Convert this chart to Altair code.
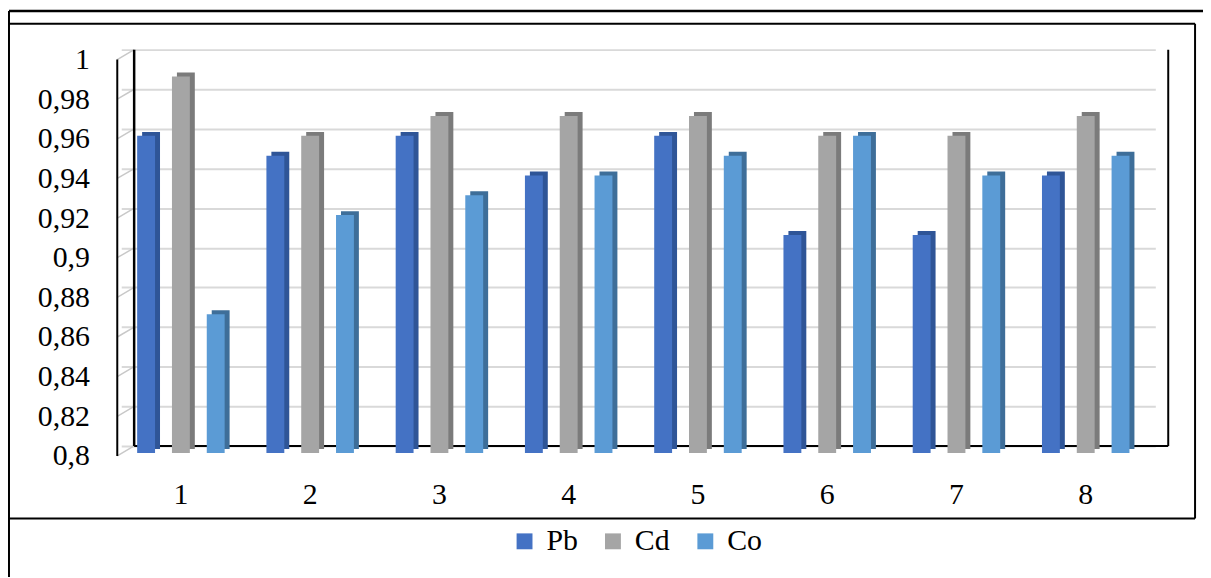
import altair as alt
import pandas as pd

groups = ["1", "2", "3", "4", "5", "6", "7", "8"]
series = ["Pb", "Cd", "Co"]
pb = [0.96, 0.95, 0.96, 0.94, 0.96, 0.91, 0.91, 0.94]
cd = [0.99, 0.96, 0.97, 0.97, 0.97, 0.96, 0.96, 0.97]
co = [0.87, 0.92, 0.93, 0.94, 0.95, 0.96, 0.94, 0.95]
y_ticks = [0.8, 0.82, 0.84, 0.86, 0.88, 0.9, 0.92, 0.94, 0.96, 0.98, 1.0]
y_min, y_max = 0.8, 1.0

front_colors = ["#4472C4", "#A5A5A5", "#5B9BD5"]
side_colors = ["#2F5597", "#7B7B7B", "#3E6E99"]
side_keys = [s + " side" for s in series]

FONT = "Liberation Serif"
FS = 30
W, H = 1041, 399

rows = []
for g, a, b, c in zip(groups, pb, cd, co):
    for s, k, v in zip(series, side_keys, (a, b, c)):
        rows.append({"group": g, "series": s, "face": k, "value": v, "base": y_min})
df = pd.DataFrame(rows)
ticks_df = pd.DataFrame({"value": y_ticks})
span_df = pd.DataFrame({"value": [y_min], "hi": [y_max]})

xo_scale = alt.Scale(paddingInner=0.486, paddingOuter=0.6)
y_scale = alt.Scale(domain=[y_min, y_max], zero=False, nice=False)

x_axis = alt.Axis(title=None, labelAngle=0, ticks=False, domain=False,
                  labelFont=FONT, labelFontSize=FS, labelColor="black",
                  labelPadding=34)
y_axis = alt.Axis(values=y_ticks, title=None, grid=True, gridColor="#d9d9d9",
                  gridWidth=2, domain=False, ticks=False,
                  labelExpr="replace(format(datum.value, '.2~f'), '.', ',')",
                  labelPadding=45, labelOffset=10, labelFont=FONT,
                  labelFontSize=FS, labelColor="black")


def Y(field="value:Q"):
    return alt.Y(field, scale=y_scale, axis=y_axis, title=None)


base = alt.Chart(df)

side = base.mark_bar(yOffset=3, y2Offset=3).encode(
    x=alt.X("group:N", sort=groups,
            scale=alt.Scale(range=[-13, W - 13], paddingInner=0, paddingOuter=0),
            axis=None),
    xOffset=alt.XOffset("series:N", sort=series, scale=xo_scale),
    y=Y(),
    y2="base:Q",
    fill=alt.Fill("face:N", sort=side_keys,
                  scale=alt.Scale(range=side_colors), legend=None),
)

front = base.mark_bar(yOffset=7, y2Offset=7).encode(
    x=alt.X("group:N", sort=groups,
            scale=alt.Scale(range=[-18, W - 18], paddingInner=0, paddingOuter=0),
            axis=x_axis),
    xOffset=alt.XOffset("series:N", sort=series, scale=xo_scale),
    y=Y(),
    y2="base:Q",
    color=alt.Color("series:N", sort=series,
                    scale=alt.Scale(domain=series, range=front_colors),
                    legend=alt.Legend(title=None, orient="none", legendX=378,
                                      legendY=480, direction="horizontal",
                                      symbolType="square", symbolSize=256,
                                      symbolStrokeWidth=0, symbolOpacity=1,
                                      labelFont=FONT, labelFontSize=FS,
                                      labelColor="black", columnPadding=20,
                                      labelOffset=7, padding=0)),
)

# 3D wall decorations
diag = alt.Chart(ticks_df).mark_rule(color="#c8c8c8", strokeWidth=1.5, yOffset=10).encode(
    x=alt.value(-17), x2=alt.value(0), y=Y(), y2="value:Q",
)
front_axis = alt.Chart(span_df).mark_rule(color="black", strokeWidth=2, yOffset=10, y2Offset=10).encode(
    x=alt.value(-17), y=Y(), y2="hi:Q",
)
wall_left = alt.Chart(span_df).mark_rule(color="black", strokeWidth=2.5).encode(
    x=alt.value(0), y=Y(), y2="hi:Q",
)
wall_right = alt.Chart(span_df).mark_rule(color="black", strokeWidth=2).encode(
    x=alt.value(W), y=Y(), y2="hi:Q",
)
wall_bottom = alt.Chart(span_df).mark_rule(color="black", strokeWidth=2).encode(
    x=alt.value(0), x2=alt.value(W), y=Y(),
)


def frame_line(x1, x2, y1, y2, w=2):
    return alt.Chart(span_df).mark_rule(color="black", strokeWidth=w).encode(
        x=alt.value(x1), x2=alt.value(x2), y=alt.value(y1), y2=alt.value(y2))


frame = [
    frame_line(-126, 1076, -39, -39, 2.5),
    frame_line(-126, 1068, -26, -26),
    frame_line(-126, -126, -39, 540),
    frame_line(1068, 1068, -26, 472),
    frame_line(-126, 1068, 472, 472),
]

chart = alt.layer(
    diag, wall_bottom, side, front, wall_left, wall_right, front_axis, *frame
).resolve_scale(
    x="independent", xOffset="independent"
).properties(
    width=W, height=H,
    padding={"left": 127, "top": 40, "right": 35, "bottom": 130},
    autosize=alt.AutoSizeParams(type="none"),
    background="white",
).configure_view(stroke=None).configure_axis(
    labelFont=FONT, labelFontSize=FS, labelColor="black"
).configure_legend(
    labelFont=FONT, labelFontSize=FS, labelColor="black"
)

chart.save("out.html", embed_options={"renderer": "svg", "actions": False})
